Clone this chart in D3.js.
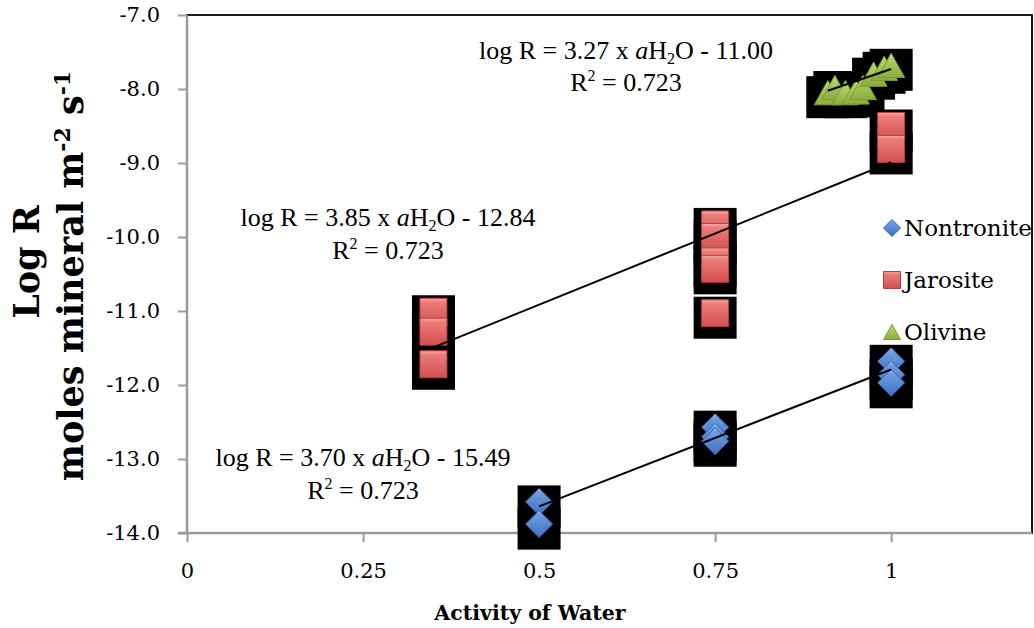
<!DOCTYPE html>
<html>
<head>
<meta charset="utf-8">
<script src="https://cdn.jsdelivr.net/npm/d3@7/dist/d3.min.js"></script>
<style>
  body { margin: 0; background: #fff; }
  svg { display: block; }
</style>
</head>
<body>
<svg id="chart" width="1034" height="628"></svg>
<script>
// ---- data ----
const xTicks = [0, 0.25, 0.5, 0.75, 1];
const xTickLabels = ["0", "0.25", "0.5", "0.75", "1"];
const yTicks = [-7, -8, -9, -10, -11, -12, -13, -14];

const seriesNames = ["Nontronite", "Jarosite", "Olivine"];

// [activity of water, log R]
const nontronite = [
  [0.5, -13.58], [0.5, -13.88],
  [0.75, -12.57], [0.75, -12.70], [0.75, -12.76],
  [1.0, -11.68], [1.0, -11.86], [1.0, -11.97]
];
const jarosite = [
  [0.35, -11.01], [0.35, -11.28], [0.35, -11.72],
  [0.75, -9.83], [0.75, -10.0], [0.75, -10.33], [0.75, -10.43], [0.75, -11.03],
  [1.0, -8.5], [1.0, -8.81]
];
const olivine = [
  [0.91, -8.05], [0.92, -7.98], [0.935, -8.05], [0.95, -8.04],
  [0.96, -7.98], [0.975, -7.8], [0.99, -7.72], [1.0, -7.68]
];

// linear fits: log R = slope * aH2O + intercept
const fitSlopes = [3.70, 3.85, 3.27];
const fitIntercepts = [-15.49, -12.84, -11.00];
const fitR2 = ["0.723", "0.723", "0.723"];

// ---- layout ----
const svg = d3.select("#chart");
const plot = { left: 187, top: 15, right: 1032, bottom: 533 };

const x = d3.scaleLinear().domain([0, 1.2]).range([plot.left, plot.right]);
const y = d3.scaleLinear().domain([-14, -7]).range([plot.bottom, plot.top]);

const palette = [
  { light: "#a9c8f2", mid: "#6f9de0", dark: "#3f6fc0", stroke: "#3a67ad" },
  { light: "#f6a9a7", mid: "#ec7c7a", dark: "#d24f4d", stroke: "#b5403e" },
  { light: "#d4ea98", mid: "#b4d36a", dark: "#8cad3c", stroke: "#7c9a33" }
];

// marker gradients
const defs = svg.append("defs");
palette.forEach((p, i) => {
  const g = defs.append("linearGradient")
    .attr("id", "grad" + i).attr("x1", 0).attr("y1", 0).attr("x2", 0).attr("y2", 1);
  g.append("stop").attr("offset", "0%").attr("stop-color", p.light);
  g.append("stop").attr("offset", "15%").attr("stop-color", p.mid);
  g.append("stop").attr("offset", "100%").attr("stop-color", p.dark);
});

// marker path generators, centred on 0,0
function markerPath(kind, s) {
  const h = s / 2;
  if (kind === 0) return `M0,${-h}L${h},0L0,${h}L${-h},0Z`;
  if (kind === 1) return `M${-h},${-h}H${h}V${h}H${-h}Z`;
  const th = s * 0.9;
  return `M0,${-th / 2}L${h},${th / 2}L${-h},${th / 2}Z`;
}

// ---- plot frame ----
svg.append("rect")
  .attr("x", plot.left).attr("y", plot.top)
  .attr("width", plot.right - plot.left).attr("height", plot.bottom - plot.top)
  .attr("fill", "#fff").attr("stroke", "#1a1a1a").attr("stroke-width", 2);

// ---- axes ----
const axisColor = "#9a9a9a";
const yAxis = svg.append("g")
  .attr("transform", `translate(${plot.left},0)`)
  .call(d3.axisLeft(y).tickValues(yTicks).tickSize(9).tickPadding(18)
    .tickFormat(d => d.toFixed(1)));
const xAxis = svg.append("g")
  .attr("transform", `translate(0,${plot.bottom})`)
  .call(d3.axisBottom(x).tickValues(xTicks).tickSize(9).tickPadding(21)
    .tickFormat((d, i) => xTickLabels[i]));

[xAxis, yAxis].forEach(a => {
  a.select(".domain").attr("stroke", axisColor).attr("stroke-width", 2.5);
  a.selectAll(".tick line").attr("stroke", axisColor).attr("stroke-width", 2);
  a.selectAll(".tick text")
    .attr("fill", "#000")
    .style("font-family", "'DejaVu Serif', serif")
    .style("font-size", "21px");
});
// extend axis lines over the tick stubs at the origin corner
xAxis.select(".domain").attr("d", `M${plot.left - 9},0H${plot.right}`);
yAxis.select(".domain").attr("d", `M0,${plot.top}V${plot.bottom}`);

// ---- markers ----
const allSeries = [nontronite, jarosite, olivine];
const markerSize = 27;

// dark halo boxes behind markers
allSeries.forEach((data, i) => {
  const half = markerSize / 2;
  svg.append("g").selectAll("rect")
    .data(data).join("rect")
    .attr("x", d => x(d[0]) - half - 8)
    .attr("y", d => y(d[1]) - half - 3)
    .attr("width", markerSize + 16)
    .attr("height", markerSize + 15)
    .attr("fill", "#000");
});

allSeries.forEach((data, i) => {
  const p = palette[i];
  svg.append("g").selectAll("path")
    .data(data).join("path")
    .attr("transform", d => `translate(${x(d[0])},${y(d[1])})`)
    .attr("d", markerPath(i, markerSize))
    .attr("fill", `url(#grad${i})`)
    .attr("stroke", p.stroke).attr("stroke-width", 1);
});

// ---- trend lines ----
allSeries.forEach((data, i) => {
  const [x0, x1] = d3.extent(data, d => d[0]);
  const f = v => fitSlopes[i] * v + fitIntercepts[i];
  svg.append("line")
    .attr("x1", x(x0)).attr("y1", y(f(x0)))
    .attr("x2", x(x1)).attr("y2", y(f(x1)))
    .attr("stroke", "#000").attr("stroke-width", 2);
});

// ---- equation labels ----
const eqPos = [
  { cx: 363, y1: 466, y2: 499 },
  { cx: 388, y1: 226, y2: 259 },
  { cx: 626, y1: 59, y2: 91 }
];
const eqFont = "'Liberation Serif', 'Times New Roman', serif";
eqPos.forEach((pos, i) => {
  const t1 = svg.append("text")
    .attr("x", pos.cx).attr("y", pos.y1)
    .attr("text-anchor", "middle")
    .style("font-family", eqFont).style("font-size", "26px");
  const b = Math.abs(fitIntercepts[i]).toFixed(2);
  const sign = fitIntercepts[i] < 0 ? "-" : "+";
  t1.append("tspan").text(`log R = ${fitSlopes[i].toFixed(2)} x `);
  t1.append("tspan").style("font-style", "italic").text("a");
  t1.append("tspan").text("H");
  t1.append("tspan").attr("dy", 5).style("font-size", "16px").text("2");
  t1.append("tspan").attr("dy", -5).text(`O ${sign} ${b}`);

  const t2 = svg.append("text")
    .attr("x", pos.cx).attr("y", pos.y2)
    .attr("text-anchor", "middle")
    .style("font-family", eqFont).style("font-size", "26px");
  t2.append("tspan").text("R");
  t2.append("tspan").attr("dy", -10).style("font-size", "16px").text("2");
  t2.append("tspan").attr("dy", 10).text(` = ${fitR2[i]}`);
});

// ---- legend ----
const legendY = [228, 280, 332];
seriesNames.forEach((name, i) => {
  svg.append("path")
    .attr("transform", `translate(892,${legendY[i]})`)
    .attr("d", markerPath(i, 17))
    .attr("fill", `url(#grad${i})`)
    .attr("stroke", palette[i].stroke).attr("stroke-width", 1);
  svg.append("text")
    .attr("x", 904).attr("y", legendY[i] + 8)
    .style("font-family", "'DejaVu Serif', serif")
    .style("font-size", "23px")
    .text(name);
});

// ---- axis titles ----
svg.append("text")
  .attr("x", 530).attr("y", 620)
  .attr("text-anchor", "middle")
  .style("font-family", "'DejaVu Serif', serif")
  .style("font-weight", "bold").style("font-size", "20.5px")
  .text("Activity of Water");

svg.append("text")
  .attr("transform", "translate(39,262) rotate(-90)")
  .attr("text-anchor", "middle")
  .style("font-family", "'DejaVu Serif', serif")
  .style("font-weight", "bold").style("font-size", "35px")
  .text("Log R");

const yt = svg.append("text")
  .attr("transform", "translate(83,276) rotate(-90)")
  .attr("text-anchor", "middle")
  .style("font-family", "'DejaVu Serif', serif")
  .style("font-weight", "bold").style("font-size", "35px");
yt.append("tspan").text("moles mineral m");
yt.append("tspan").attr("dy", -13).style("font-size", "22px").text("-2");
yt.append("tspan").attr("dy", 13).text(" s");
yt.append("tspan").attr("dy", -13).style("font-size", "22px").text("-1");
</script>
</body>
</html>
